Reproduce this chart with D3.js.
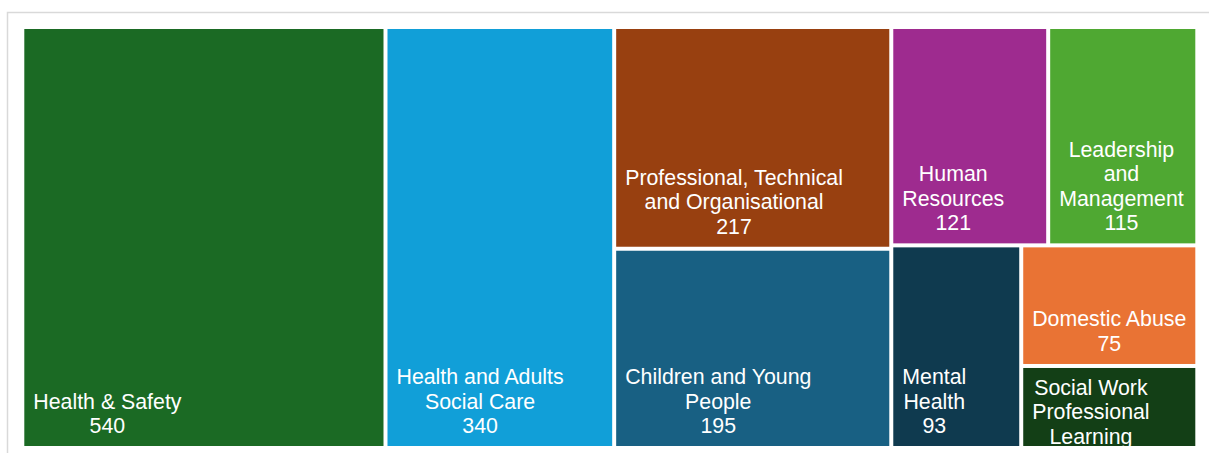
<!DOCTYPE html>
<html>
<head>
<meta charset="utf-8">
<script src="https://cdn.jsdelivr.net/npm/d3@7"></script>
<style>
  body { margin: 0; background: #ffffff; }
  svg { display: block; }
</style>
</head>
<body>
<svg id="chart" width="1209" height="453"></svg>
<script>
// Learning topics and number of courses completed
const categories = [
  "Health & Safety",
  "Health and Adults Social Care",
  "Professional, Technical and Organisational",
  "Children and Young People",
  "Human Resources",
  "Leadership and Management",
  "Mental Health",
  "Domestic Abuse",
  "Social Work Professional Learning"
];
const values = [540, 340, 217, 195, 121, 115, 93, 75, 51];

// How each category name breaks across lines inside its tile
const labelLines = [
  ["Health & Safety"],
  ["Health and Adults", "Social Care"],
  ["Professional, Technical", "and Organisational"],
  ["Children and Young", "People"],
  ["Human", "Resources"],
  ["Leadership", "and", "Management"],
  ["Mental", "Health"],
  ["Domestic Abuse"],
  ["Social Work", "Professional", "Learning"]
];

const colors = [
  "#1b6a24", "#119fd8", "#984010", "#186083", "#9e2b8f",
  "#4fa832", "#0f3a4f", "#e97334", "#133f16"
];

const svg = d3.select("#chart");
const W = 1209, H = 453;

// Outer chart frame (runs past the right and bottom edges)
svg.append("rect")
  .attr("x", 7.5).attr("y", 12.5)
  .attr("width", 1230).attr("height", 470)
  .attr("fill", "#ffffff")
  .attr("stroke", "#d9d9d9")
  .attr("stroke-width", 1.5);

const plot = { x: 24.3, y: 29, w: 1171, h: 417 };

const rows = categories.map((c, i) => ({
  name: c, value: values[i], lines: labelLines[i], color: colors[i]
}));

const root = d3.hierarchy({ children: rows })
  .sum(d => d.value || 0)
  .sort((a, b) => b.value - a.value);

d3.treemap()
  .tile(d3.treemapSquarify.ratio(1))
  .size([plot.w, plot.h])
  .paddingInner(4)
  .round(false)(root);

const g = svg.append("g").attr("transform", `translate(${plot.x},${plot.y})`);

const fontSize = 21.33;
const lineH = 24.5;
const padX = 9;
const padBottom = 13;

const cells = g.selectAll("g.cell")
  .data(root.leaves())
  .join("g")
  .attr("class", "cell");

cells.append("clipPath")
  .attr("id", (d, i) => "clip" + i)
  .append("rect")
  .attr("x", d => d.x0).attr("y", d => d.y0)
  .attr("width", d => d.x1 - d.x0)
  .attr("height", d => d.y1 - d.y0);

cells.append("rect")
  .attr("x", d => d.x0).attr("y", d => d.y0)
  .attr("width", d => d.x1 - d.x0)
  .attr("height", d => d.y1 - d.y0)
  .attr("fill", d => d.data.color);

cells.each(function(d, i) {
  const cell = d3.select(this);
  const lines = d.data.lines.concat([String(d.data.value)]);
  const t = cell.append("g")
    .attr("clip-path", `url(#clip${i})`)
    .append("text")
    .attr("fill", "#ffffff")
    .attr("font-family", "'Liberation Sans', Arial, sans-serif")
    .attr("font-size", fontSize)
    .attr("text-anchor", "middle");

  const spans = lines.map(l => t.append("tspan").text(l));
  const blockW = d3.max(spans, s => s.node().getComputedTextLength());
  const cx = d.x0 + padX + blockW / 2;

  const cellH = d.y1 - d.y0;
  const blockH = (lines.length - 1) * lineH + 27 + padBottom;
  let firstBase;
  if (blockH <= cellH) {
    // bottom-aligned block
    firstBase = d.y1 - padBottom - (lines.length - 1) * lineH;
  } else {
    // not enough room: start from the top and let it clip
    firstBase = d.y0 + 27;
  }
  spans.forEach((s, k) => {
    s.attr("x", cx).attr("y", firstBase + k * lineH);
  });
});
</script>
</body>
</html>
